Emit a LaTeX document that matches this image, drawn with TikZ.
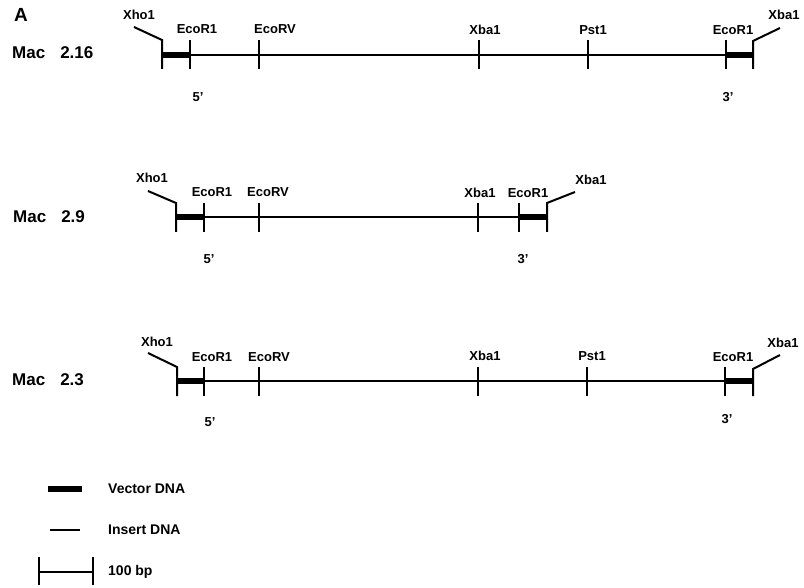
\documentclass[tikz,border=0pt]{standalone}
\usepackage{fontspec}
\setmainfont{Liberation Sans}
\begin{document}
\begin{tikzpicture}[x=1pt,y=-1pt,
  dna/.style={line width=1.5pt},
  vec/.style={line width=6.5pt},
  site/.style={line width=2pt},
  lbl/.style={font=\fontsize{13}{15}\selectfont\bfseries, inner sep=0pt},
  mac/.style={font=\fontsize{17}{19}\selectfont\bfseries, inner sep=0pt, anchor=west},
  leg/.style={font=\fontsize{14}{16}\selectfont\bfseries, inner sep=0pt, anchor=west}]
\useasboundingbox (0,0) rectangle (804,588);

\node[font=\fontsize{19}{20}\selectfont\bfseries, inner sep=0pt] (A) at (21,15) {A};

% ---------- Row 1: Mac 2.16 ----------
\node[mac] (m1) at (12,53) {Mac\hspace{15pt}2.16};
\coordinate (a1) at (162,55);
\coordinate (b1) at (190,55);
\coordinate (c1) at (259,55);
\coordinate (d1) at (479,55);
\coordinate (e1) at (588,55);
\coordinate (f1) at (726,55);
\coordinate (g1) at (753,55);
\coordinate (l1) at (134,27);
\coordinate (r1) at (780,28);
\draw[dna] (a1) -- (g1);
\draw[vec] (a1) -- (b1);
\draw[vec] (f1) -- (g1);
\foreach \p in {b1,c1,d1,e1,f1} \draw[site] (\p) ++(0,-15) -- ++(0,29);
\draw[site] (a1) ++(0,14) -- ++(0,-29) -- (l1);
\draw[site] (g1) ++(0,14) -- ++(0,-28) -- (r1);
\node[lbl] (x11) at (139,15) {Xho1};
\node[lbl] (x12) at (197,29) {EcoR1};
\node[lbl] (x13) at (275,29) {EcoRV};
\node[lbl] (x14) at (485,30) {Xba1};
\node[lbl] (x15) at (593,30) {Pst1};
\node[lbl] (x16) at (733,30) {EcoR1};
\node[lbl] (x17) at (784,15) {Xba1};
\node[lbl] (p1) at (198,97) {5'};
\node[lbl] (q1) at (728,97) {3'};

% ---------- Row 2: Mac 2.9 ----------
\node[mac] (m2) at (13,217) {Mac\hspace{15pt}2.9};
\coordinate (a2) at (176,217);
\coordinate (b2) at (204,217);
\coordinate (c2) at (259,217);
\coordinate (d2) at (478,217);
\coordinate (e2) at (519,217);
\coordinate (f2) at (547,217);
\coordinate (l2) at (148,191);
\coordinate (r2) at (575,192);
\draw[dna] (a2) -- (f2);
\draw[vec] (a2) -- (b2);
\draw[vec] (e2) -- (f2);
\foreach \p in {b2,c2,d2,e2} \draw[site] (\p) ++(0,-14) -- ++(0,29);
\draw[site] (a2) ++(0,15) -- ++(0,-29) -- (l2);
\draw[site] (f2) ++(0,15) -- ++(0,-29) -- (r2);
\node[lbl] (x21) at (152,178) {Xho1};
\node[lbl] (x22) at (212,192) {EcoR1};
\node[lbl] (x23) at (268,192) {EcoRV};
\node[lbl] (x24) at (480,193) {Xba1};
\node[lbl] (x25) at (528,193) {EcoR1};
\node[lbl] (x26) at (591,180) {Xba1};
\node[lbl] (p2) at (209,259) {5'};
\node[lbl] (q2) at (523,259) {3'};

% ---------- Row 3: Mac 2.3 ----------
\node[mac] (m3) at (12,380) {Mac\hspace{15pt}2.3};
\coordinate (a3) at (177,381);
\coordinate (b3) at (204,381);
\coordinate (c3) at (259,381);
\coordinate (d3) at (478,381);
\coordinate (e3) at (587,381);
\coordinate (f3) at (725,381);
\coordinate (g3) at (753,381);
\coordinate (l3) at (148,353);
\coordinate (r3) at (780,355);
\draw[dna] (a3) -- (g3);
\draw[vec] (a3) -- (b3);
\draw[vec] (f3) -- (g3);
\foreach \p in {b3,c3,d3,e3,f3} \draw[site] (\p) ++(0,-14) -- ++(0,29);
\draw[site] (a3) ++(0,15) -- ++(0,-29) -- (l3);
\draw[site] (g3) ++(0,15) -- ++(0,-27) -- (r3);
\node[lbl] (x31) at (157,342) {Xho1};
\node[lbl] (x32) at (212,357) {EcoR1};
\node[lbl] (x33) at (269,357) {EcoRV};
\node[lbl] (x34) at (485,356) {Xba1};
\node[lbl] (x35) at (592,356) {Pst1};
\node[lbl] (x36) at (733,357) {EcoR1};
\node[lbl] (x37) at (783,343) {Xba1};
\node[lbl] (p3) at (210,422) {5'};
\node[lbl] (q3) at (727,419) {3'};

% ---------- Legend ----------
\coordinate (v1) at (48,489);
\coordinate (v2) at (82,489);
\draw[vec] (v1) -- (v2);
\node[leg] (tv) at (108,489) {Vector DNA};
\coordinate (i1) at (50,530);
\coordinate (i2) at (80,530);
\draw[dna] (i1) -- (i2);
\node[leg] (ti) at (108,530) {Insert DNA};
\coordinate (s1) at (39,572);
\coordinate (s2) at (93,572);
\draw[dna] (s1) -- (s2);
\draw[site] (s1) ++(0,-15) -- ++(0,28);
\draw[site] (s2) ++(0,-15) -- ++(0,28);
\node[leg] (ts) at (108,572) {100 bp};
\end{tikzpicture}
\end{document}
